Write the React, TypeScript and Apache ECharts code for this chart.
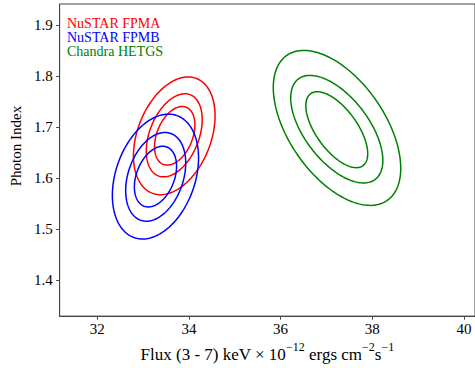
import React, { useEffect, useRef } from 'react';
import * as echarts from 'echarts';

const seriesNames = ['NuSTAR FPMA', 'NuSTAR FPMB', 'Chandra HETGS'];
const seriesColors = ['#ff0000', '#0000ff', '#008000'];
// each contour: [xMin, xMax, yMin, yMax, correlation]
const fpmaContours = [
  [32.79, 34.57, 1.568, 1.799, 0.34],
  [33.07, 34.29, 1.603, 1.766, 0.38],
  [33.25, 34.13, 1.626, 1.741, 0.37],
];
const fpmbContours = [
  [32.33, 34.21, 1.481, 1.726, 0.3],
  [32.62, 33.93, 1.516, 1.69, 0.31],
  [32.81, 33.73, 1.544, 1.663, 0.34],
];
const hetgsContours = [
  [35.84, 38.62, 1.547, 1.851, -0.52],
  [36.22, 38.23, 1.591, 1.802, -0.58],
  [36.55, 37.9, 1.621, 1.77, -0.63],
];
const xTicks = [32, 34, 36, 38, 40];
const yTicks = [1.4, 1.5, 1.6, 1.7, 1.8, 1.9];

const FONT = "'Liberation Serif', 'DejaVu Serif', serif";
const AXIS_COLOR = '#444';

function makeSeries(name: string, color: string, data: number[][]) {
  return {
    type: 'custom',
    name,
    color,
    data,
    encode: { x: [0, 1], y: [2, 3] },
    renderItem: (params: any, api: any) => {
      const x0 = api.value(0), x1 = api.value(1), y0 = api.value(2), y1 = api.value(3), rho = api.value(4);
      const cx = (x0 + x1) / 2, cy = (y0 + y1) / 2, rx = (x1 - x0) / 2, ry = (y1 - y0) / 2;
      const phi = Math.acos(rho);
      const N = 180;
      const pts: number[][] = [];
      for (let i = 0; i < N; i++) {
        const t = (2 * Math.PI * i) / N;
        pts.push(api.coord([cx + rx * Math.cos(t), cy + ry * Math.cos(t - phi)]));
      }
      return {
        type: 'polygon',
        shape: { points: pts },
        style: { fill: 'none', stroke: color, lineWidth: 1.5 },
      };
    },
  };
}

export default function App() {
  const ref = useRef<HTMLDivElement>(null);
  useEffect(() => {
    document.body.style.margin = '0';
    const chart = echarts.init(ref.current!, null, { renderer: 'svg' });
    chart.setOption({
      animation: false,
      textStyle: { fontFamily: FONT, fontSize: 15 },
      grid: { left: 58, top: 4, right: -1, bottom: 44, show: true, borderColor: AXIS_COLOR, borderWidth: 1 },
      legend: {
        left: 57,
        top: 11,
        orient: 'vertical',
        icon: 'none',
        itemWidth: 0,
        itemHeight: 14,
        itemGap: 0,
        selectedMode: false,
        textStyle: { fontSize: 14, fontFamily: FONT },
        data: seriesNames.map((n, i) => ({
          name: n,
          textStyle: { color: seriesColors[i], fontSize: 14, fontFamily: FONT },
        })),
      },
      xAxis: {
        type: 'value',
        min: 31.18,
        max: 40.24,
        axisLine: { show: true, lineStyle: { color: AXIS_COLOR } },
        axisTick: { show: true, inside: false, length: 3.5, lineStyle: { color: AXIS_COLOR }, customValues: xTicks },
        axisLabel: { color: '#000', fontSize: 15, fontFamily: FONT, margin: 5, customValues: xTicks },
        splitLine: { show: false },
        nameLocation: 'middle',
        nameGap: 19,
        name: '{a|Flux (3 - 7) keV × 10}{s|−12}{a| ergs cm}{s|−2}{a|s}{s|−1}',
        nameTextStyle: {
          color: '#000',
          fontSize: 17,
          fontFamily: FONT,
          rich: {
            a: { fontSize: 17, fontFamily: FONT, color: '#000', verticalAlign: 'bottom', lineHeight: 22 },
            s: { fontSize: 12, fontFamily: FONT, color: '#000', verticalAlign: 'top', lineHeight: 22 },
          },
        },
      },
      yAxis: {
        type: 'value',
        min: 1.3298,
        max: 1.9421,
        axisLine: { show: true, lineStyle: { color: AXIS_COLOR } },
        axisTick: { show: true, inside: false, length: 3.5, lineStyle: { color: AXIS_COLOR }, customValues: yTicks },
        axisLabel: {
          color: '#000', fontSize: 15, fontFamily: FONT, margin: 7, customValues: yTicks,
          formatter: (v: number) => v.toFixed(1),
        },
        splitLine: { show: false },
        name: 'Photon Index',
        nameLocation: 'middle',
        nameGap: 33,
        nameTextStyle: { color: '#000', fontSize: 15, fontFamily: FONT, padding: [0, 0, 0, 28] },
      },
      series: [
        makeSeries(seriesNames[0], seriesColors[0], fpmaContours),
        makeSeries(seriesNames[1], seriesColors[1], fpmbContours),
        makeSeries(seriesNames[2], seriesColors[2], hetgsContours),
      ],
    });
    return () => chart.dispose();
  }, []);
  return <div ref={ref} style={{ width: 475, height: 368 }} />;
}
